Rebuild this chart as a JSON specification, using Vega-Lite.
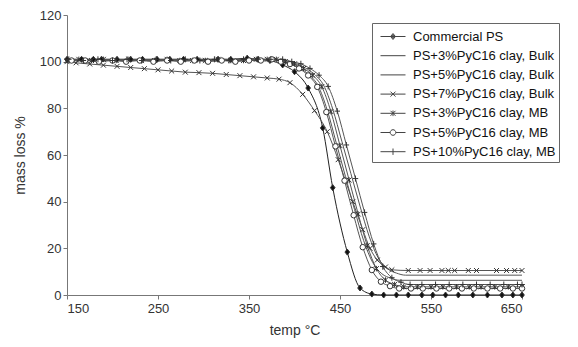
{
  "$schema": "https://vega.github.io/schema/vega-lite/v6.json",
  "autosize": {"type": "none"},
  "width": 455,
  "height": 280,
  "padding": {"left": 67, "top": 15, "right": 56, "bottom": 52},
  "background": "white",
  "config": {
    "view": {"stroke": null},
    "font": "Liberation Sans",
    "axis": {"labelFont": "Liberation Sans", "labelFontSize": 13, "labelColor": "#333", "titleFont": "Liberation Sans", "titleFontSize": 14, "titleFontWeight": "normal", "titleColor": "#333", "domainColor": "#777", "tickColor": "#777", "grid": false, "tickSize": 4}
  },
  "datasets": {
    "d": [
      {"s": "Commercial PS", "t": 150, "v": 101}, {"s": "Commercial PS", "t": 166, "v": 101}, {"s": "Commercial PS", "t": 179, "v": 101}, {"s": "Commercial PS", "t": 188, "v": 101}, {"s": "Commercial PS", "t": 205, "v": 101}, {"s": "Commercial PS", "t": 220, "v": 101}, {"s": "Commercial PS", "t": 233, "v": 101}, {"s": "Commercial PS", "t": 249, "v": 101}, {"s": "Commercial PS", "t": 263, "v": 101}, {"s": "Commercial PS", "t": 278, "v": 101}, {"s": "Commercial PS", "t": 293, "v": 101}, {"s": "Commercial PS", "t": 316, "v": 101}, {"s": "Commercial PS", "t": 330, "v": 101}, {"s": "Commercial PS", "t": 348, "v": 101.5}, {"s": "Commercial PS", "t": 360, "v": 101}, {"s": "Commercial PS", "t": 373, "v": 100.5}, {"s": "Commercial PS", "t": 387, "v": 98.6}, {"s": "Commercial PS", "t": 400, "v": 95.7}, {"s": "Commercial PS", "t": 415, "v": 88.7}, {"s": "Commercial PS", "t": 431, "v": 71.6}, {"s": "Commercial PS", "t": 442, "v": 46}, {"s": "Commercial PS", "t": 458, "v": 18.4}, {"s": "Commercial PS", "t": 472, "v": 3}, {"s": "Commercial PS", "t": 485, "v": 0.4}, {"s": "Commercial PS", "t": 498, "v": 0}, {"s": "Commercial PS", "t": 512, "v": 0}, {"s": "Commercial PS", "t": 525, "v": 0}, {"s": "Commercial PS", "t": 540, "v": 0}, {"s": "Commercial PS", "t": 552, "v": 0}, {"s": "Commercial PS", "t": 566, "v": 0}, {"s": "Commercial PS", "t": 580, "v": 0}, {"s": "Commercial PS", "t": 596, "v": 0}, {"s": "Commercial PS", "t": 612, "v": 0}, {"s": "Commercial PS", "t": 628, "v": 0}, {"s": "Commercial PS", "t": 640, "v": 0}, {"s": "Commercial PS", "t": 650, "v": 0},

      {"s": "PS+3%PyC16 clay, Bulk", "t": 150, "v": 100.5}, {"s": "PS+3%PyC16 clay, Bulk", "t": 250, "v": 100.5}, {"s": "PS+3%PyC16 clay, Bulk", "t": 350, "v": 100.5}, {"s": "PS+3%PyC16 clay, Bulk", "t": 376, "v": 101}, {"s": "PS+3%PyC16 clay, Bulk", "t": 386, "v": 100}, {"s": "PS+3%PyC16 clay, Bulk", "t": 396, "v": 99.1}, {"s": "PS+3%PyC16 clay, Bulk", "t": 406, "v": 97.2}, {"s": "PS+3%PyC16 clay, Bulk", "t": 416, "v": 94.4}, {"s": "PS+3%PyC16 clay, Bulk", "t": 426, "v": 89.6}, {"s": "PS+3%PyC16 clay, Bulk", "t": 436, "v": 79.2}, {"s": "PS+3%PyC16 clay, Bulk", "t": 446, "v": 65}, {"s": "PS+3%PyC16 clay, Bulk", "t": 456, "v": 50.8}, {"s": "PS+3%PyC16 clay, Bulk", "t": 466, "v": 36.6}, {"s": "PS+3%PyC16 clay, Bulk", "t": 476, "v": 23.3}, {"s": "PS+3%PyC16 clay, Bulk", "t": 486, "v": 13.9}, {"s": "PS+3%PyC16 clay, Bulk", "t": 496, "v": 9.1}, {"s": "PS+3%PyC16 clay, Bulk", "t": 506, "v": 7.2}, {"s": "PS+3%PyC16 clay, Bulk", "t": 516, "v": 6.3}, {"s": "PS+3%PyC16 clay, Bulk", "t": 580, "v": 6.3}, {"s": "PS+3%PyC16 clay, Bulk", "t": 650, "v": 6.3},

      {"s": "PS+5%PyC16 clay, Bulk", "t": 150, "v": 101}, {"s": "PS+5%PyC16 clay, Bulk", "t": 250, "v": 101}, {"s": "PS+5%PyC16 clay, Bulk", "t": 350, "v": 101}, {"s": "PS+5%PyC16 clay, Bulk", "t": 382, "v": 101}, {"s": "PS+5%PyC16 clay, Bulk", "t": 392, "v": 100.1}, {"s": "PS+5%PyC16 clay, Bulk", "t": 402, "v": 99.2}, {"s": "PS+5%PyC16 clay, Bulk", "t": 412, "v": 97.3}, {"s": "PS+5%PyC16 clay, Bulk", "t": 422, "v": 94.5}, {"s": "PS+5%PyC16 clay, Bulk", "t": 432, "v": 89.9}, {"s": "PS+5%PyC16 clay, Bulk", "t": 442, "v": 79.7}, {"s": "PS+5%PyC16 clay, Bulk", "t": 452, "v": 65.9}, {"s": "PS+5%PyC16 clay, Bulk", "t": 462, "v": 52}, {"s": "PS+5%PyC16 clay, Bulk", "t": 472, "v": 38.1}, {"s": "PS+5%PyC16 clay, Bulk", "t": 482, "v": 25.2}, {"s": "PS+5%PyC16 clay, Bulk", "t": 492, "v": 15.9}, {"s": "PS+5%PyC16 clay, Bulk", "t": 502, "v": 11.3}, {"s": "PS+5%PyC16 clay, Bulk", "t": 512, "v": 9.4}, {"s": "PS+5%PyC16 clay, Bulk", "t": 522, "v": 8.5}, {"s": "PS+5%PyC16 clay, Bulk", "t": 590, "v": 8.5}, {"s": "PS+5%PyC16 clay, Bulk", "t": 650, "v": 8.5},

      {"s": "PS+7%PyC16 clay, Bulk", "t": 150, "v": 100}, {"s": "PS+7%PyC16 clay, Bulk", "t": 160, "v": 99.5}, {"s": "PS+7%PyC16 clay, Bulk", "t": 175, "v": 99}, {"s": "PS+7%PyC16 clay, Bulk", "t": 190, "v": 98.5}, {"s": "PS+7%PyC16 clay, Bulk", "t": 205, "v": 98}, {"s": "PS+7%PyC16 clay, Bulk", "t": 220, "v": 97.5}, {"s": "PS+7%PyC16 clay, Bulk", "t": 235, "v": 97}, {"s": "PS+7%PyC16 clay, Bulk", "t": 250, "v": 96.5}, {"s": "PS+7%PyC16 clay, Bulk", "t": 265, "v": 96}, {"s": "PS+7%PyC16 clay, Bulk", "t": 280, "v": 95.5}, {"s": "PS+7%PyC16 clay, Bulk", "t": 295, "v": 95.3}, {"s": "PS+7%PyC16 clay, Bulk", "t": 310, "v": 95}, {"s": "PS+7%PyC16 clay, Bulk", "t": 325, "v": 94.5}, {"s": "PS+7%PyC16 clay, Bulk", "t": 340, "v": 94}, {"s": "PS+7%PyC16 clay, Bulk", "t": 355, "v": 93.5}, {"s": "PS+7%PyC16 clay, Bulk", "t": 370, "v": 93}, {"s": "PS+7%PyC16 clay, Bulk", "t": 383, "v": 92.5}, {"s": "PS+7%PyC16 clay, Bulk", "t": 395, "v": 91}, {"s": "PS+7%PyC16 clay, Bulk", "t": 409, "v": 86}, {"s": "PS+7%PyC16 clay, Bulk", "t": 422, "v": 79}, {"s": "PS+7%PyC16 clay, Bulk", "t": 436, "v": 70}, {"s": "PS+7%PyC16 clay, Bulk", "t": 448, "v": 58}, {"s": "PS+7%PyC16 clay, Bulk", "t": 456, "v": 49}, {"s": "PS+7%PyC16 clay, Bulk", "t": 464, "v": 40}, {"s": "PS+7%PyC16 clay, Bulk", "t": 475, "v": 28}, {"s": "PS+7%PyC16 clay, Bulk", "t": 483, "v": 20}, {"s": "PS+7%PyC16 clay, Bulk", "t": 491, "v": 15}, {"s": "PS+7%PyC16 clay, Bulk", "t": 500, "v": 12}, {"s": "PS+7%PyC16 clay, Bulk", "t": 507, "v": 10.8}, {"s": "PS+7%PyC16 clay, Bulk", "t": 525, "v": 10.5}, {"s": "PS+7%PyC16 clay, Bulk", "t": 538, "v": 10.5}, {"s": "PS+7%PyC16 clay, Bulk", "t": 549, "v": 10.5}, {"s": "PS+7%PyC16 clay, Bulk", "t": 562, "v": 10.5}, {"s": "PS+7%PyC16 clay, Bulk", "t": 569, "v": 10.5}, {"s": "PS+7%PyC16 clay, Bulk", "t": 576, "v": 10.5}, {"s": "PS+7%PyC16 clay, Bulk", "t": 591, "v": 10.5}, {"s": "PS+7%PyC16 clay, Bulk", "t": 600, "v": 10.5}, {"s": "PS+7%PyC16 clay, Bulk", "t": 622, "v": 10.5}, {"s": "PS+7%PyC16 clay, Bulk", "t": 633, "v": 10.5}, {"s": "PS+7%PyC16 clay, Bulk", "t": 642, "v": 10.5}, {"s": "PS+7%PyC16 clay, Bulk", "t": 650, "v": 10.5},

      {"s": "PS+3%PyC16 clay, MB", "t": 150, "v": 100.5}, {"s": "PS+3%PyC16 clay, MB", "t": 163, "v": 101}, {"s": "PS+3%PyC16 clay, MB", "t": 177, "v": 100.5}, {"s": "PS+3%PyC16 clay, MB", "t": 190, "v": 101}, {"s": "PS+3%PyC16 clay, MB", "t": 204, "v": 100.5}, {"s": "PS+3%PyC16 clay, MB", "t": 218, "v": 101}, {"s": "PS+3%PyC16 clay, MB", "t": 232, "v": 100.5}, {"s": "PS+3%PyC16 clay, MB", "t": 246, "v": 100.5}, {"s": "PS+3%PyC16 clay, MB", "t": 260, "v": 101}, {"s": "PS+3%PyC16 clay, MB", "t": 274, "v": 100.5}, {"s": "PS+3%PyC16 clay, MB", "t": 288, "v": 100.5}, {"s": "PS+3%PyC16 clay, MB", "t": 302, "v": 100.5}, {"s": "PS+3%PyC16 clay, MB", "t": 316, "v": 101}, {"s": "PS+3%PyC16 clay, MB", "t": 330, "v": 100.5}, {"s": "PS+3%PyC16 clay, MB", "t": 344, "v": 100.5}, {"s": "PS+3%PyC16 clay, MB", "t": 358, "v": 101}, {"s": "PS+3%PyC16 clay, MB", "t": 370, "v": 101}, {"s": "PS+3%PyC16 clay, MB", "t": 380, "v": 101}, {"s": "PS+3%PyC16 clay, MB", "t": 390, "v": 100}, {"s": "PS+3%PyC16 clay, MB", "t": 400, "v": 99.1}, {"s": "PS+3%PyC16 clay, MB", "t": 410, "v": 97.1}, {"s": "PS+3%PyC16 clay, MB", "t": 420, "v": 94.2}, {"s": "PS+3%PyC16 clay, MB", "t": 430, "v": 89.3}, {"s": "PS+3%PyC16 clay, MB", "t": 440, "v": 78.6}, {"s": "PS+3%PyC16 clay, MB", "t": 450, "v": 64}, {"s": "PS+3%PyC16 clay, MB", "t": 460, "v": 49.3}, {"s": "PS+3%PyC16 clay, MB", "t": 470, "v": 34.7}, {"s": "PS+3%PyC16 clay, MB", "t": 480, "v": 21.1}, {"s": "PS+3%PyC16 clay, MB", "t": 490, "v": 11.3}, {"s": "PS+3%PyC16 clay, MB", "t": 500, "v": 6.4}, {"s": "PS+3%PyC16 clay, MB", "t": 510, "v": 4.5}, {"s": "PS+3%PyC16 clay, MB", "t": 520, "v": 3.5}, {"s": "PS+3%PyC16 clay, MB", "t": 535, "v": 3.5}, {"s": "PS+3%PyC16 clay, MB", "t": 550, "v": 3.5}, {"s": "PS+3%PyC16 clay, MB", "t": 563, "v": 3.5}, {"s": "PS+3%PyC16 clay, MB", "t": 578, "v": 3.5}, {"s": "PS+3%PyC16 clay, MB", "t": 592, "v": 3.5}, {"s": "PS+3%PyC16 clay, MB", "t": 605, "v": 3.5}, {"s": "PS+3%PyC16 clay, MB", "t": 620, "v": 3.5}, {"s": "PS+3%PyC16 clay, MB", "t": 635, "v": 3.5}, {"s": "PS+3%PyC16 clay, MB", "t": 650, "v": 3.5},

      {"s": "PS+5%PyC16 clay, MB", "t": 155, "v": 100.5}, {"s": "PS+5%PyC16 clay, MB", "t": 170, "v": 100.5}, {"s": "PS+5%PyC16 clay, MB", "t": 185, "v": 100}, {"s": "PS+5%PyC16 clay, MB", "t": 200, "v": 100.5}, {"s": "PS+5%PyC16 clay, MB", "t": 215, "v": 100}, {"s": "PS+5%PyC16 clay, MB", "t": 230, "v": 100.5}, {"s": "PS+5%PyC16 clay, MB", "t": 245, "v": 100}, {"s": "PS+5%PyC16 clay, MB", "t": 260, "v": 100.5}, {"s": "PS+5%PyC16 clay, MB", "t": 275, "v": 100}, {"s": "PS+5%PyC16 clay, MB", "t": 290, "v": 100.5}, {"s": "PS+5%PyC16 clay, MB", "t": 305, "v": 100}, {"s": "PS+5%PyC16 clay, MB", "t": 320, "v": 100.5}, {"s": "PS+5%PyC16 clay, MB", "t": 335, "v": 100}, {"s": "PS+5%PyC16 clay, MB", "t": 350, "v": 100.5}, {"s": "PS+5%PyC16 clay, MB", "t": 363, "v": 100.5}, {"s": "PS+5%PyC16 clay, MB", "t": 375, "v": 101}, {"s": "PS+5%PyC16 clay, MB", "t": 385, "v": 100}, {"s": "PS+5%PyC16 clay, MB", "t": 395, "v": 99}, {"s": "PS+5%PyC16 clay, MB", "t": 405, "v": 97.1}, {"s": "PS+5%PyC16 clay, MB", "t": 415, "v": 94.1}, {"s": "PS+5%PyC16 clay, MB", "t": 425, "v": 89.2}, {"s": "PS+5%PyC16 clay, MB", "t": 435, "v": 78.4}, {"s": "PS+5%PyC16 clay, MB", "t": 445, "v": 63.7}, {"s": "PS+5%PyC16 clay, MB", "t": 455, "v": 49}, {"s": "PS+5%PyC16 clay, MB", "t": 465, "v": 34.2}, {"s": "PS+5%PyC16 clay, MB", "t": 475, "v": 20.5}, {"s": "PS+5%PyC16 clay, MB", "t": 485, "v": 10.7}, {"s": "PS+5%PyC16 clay, MB", "t": 495, "v": 5.7}, {"s": "PS+5%PyC16 clay, MB", "t": 505, "v": 3.8}, {"s": "PS+5%PyC16 clay, MB", "t": 515, "v": 2.8}, {"s": "PS+5%PyC16 clay, MB", "t": 528, "v": 2.8}, {"s": "PS+5%PyC16 clay, MB", "t": 541, "v": 2.8}, {"s": "PS+5%PyC16 clay, MB", "t": 556, "v": 2.8}, {"s": "PS+5%PyC16 clay, MB", "t": 570, "v": 2.8}, {"s": "PS+5%PyC16 clay, MB", "t": 584, "v": 2.8}, {"s": "PS+5%PyC16 clay, MB", "t": 597, "v": 2.8}, {"s": "PS+5%PyC16 clay, MB", "t": 612, "v": 2.8}, {"s": "PS+5%PyC16 clay, MB", "t": 626, "v": 2.8}, {"s": "PS+5%PyC16 clay, MB", "t": 640, "v": 2.8}, {"s": "PS+5%PyC16 clay, MB", "t": 650, "v": 2.8},

      {"s": "PS+10%PyC16 clay, MB", "t": 152, "v": 101}, {"s": "PS+10%PyC16 clay, MB", "t": 168, "v": 100.5}, {"s": "PS+10%PyC16 clay, MB", "t": 184, "v": 101}, {"s": "PS+10%PyC16 clay, MB", "t": 200, "v": 100.5}, {"s": "PS+10%PyC16 clay, MB", "t": 216, "v": 101}, {"s": "PS+10%PyC16 clay, MB", "t": 232, "v": 100.5}, {"s": "PS+10%PyC16 clay, MB", "t": 248, "v": 101}, {"s": "PS+10%PyC16 clay, MB", "t": 264, "v": 100.5}, {"s": "PS+10%PyC16 clay, MB", "t": 280, "v": 101}, {"s": "PS+10%PyC16 clay, MB", "t": 296, "v": 100.5}, {"s": "PS+10%PyC16 clay, MB", "t": 312, "v": 101}, {"s": "PS+10%PyC16 clay, MB", "t": 328, "v": 100.5}, {"s": "PS+10%PyC16 clay, MB", "t": 344, "v": 101}, {"s": "PS+10%PyC16 clay, MB", "t": 360, "v": 101}, {"s": "PS+10%PyC16 clay, MB", "t": 374, "v": 101}, {"s": "PS+10%PyC16 clay, MB", "t": 387, "v": 101}, {"s": "PS+10%PyC16 clay, MB", "t": 397, "v": 100}, {"s": "PS+10%PyC16 clay, MB", "t": 407, "v": 99.1}, {"s": "PS+10%PyC16 clay, MB", "t": 417, "v": 97.1}, {"s": "PS+10%PyC16 clay, MB", "t": 427, "v": 94.2}, {"s": "PS+10%PyC16 clay, MB", "t": 437, "v": 89.4}, {"s": "PS+10%PyC16 clay, MB", "t": 447, "v": 78.8}, {"s": "PS+10%PyC16 clay, MB", "t": 457, "v": 64.3}, {"s": "PS+10%PyC16 clay, MB", "t": 467, "v": 49.9}, {"s": "PS+10%PyC16 clay, MB", "t": 477, "v": 35.4}, {"s": "PS+10%PyC16 clay, MB", "t": 487, "v": 21.9}, {"s": "PS+10%PyC16 clay, MB", "t": 497, "v": 12.2}, {"s": "PS+10%PyC16 clay, MB", "t": 507, "v": 7.4}, {"s": "PS+10%PyC16 clay, MB", "t": 517, "v": 5.5}, {"s": "PS+10%PyC16 clay, MB", "t": 527, "v": 4.5}, {"s": "PS+10%PyC16 clay, MB", "t": 540, "v": 4.5}, {"s": "PS+10%PyC16 clay, MB", "t": 555, "v": 4.5}, {"s": "PS+10%PyC16 clay, MB", "t": 570, "v": 4.5}, {"s": "PS+10%PyC16 clay, MB", "t": 585, "v": 4.5}, {"s": "PS+10%PyC16 clay, MB", "t": 600, "v": 4.5}, {"s": "PS+10%PyC16 clay, MB", "t": 615, "v": 4.5}, {"s": "PS+10%PyC16 clay, MB", "t": 630, "v": 4.5}, {"s": "PS+10%PyC16 clay, MB", "t": 645, "v": 4.5}, {"s": "PS+10%PyC16 clay, MB", "t": 650, "v": 4.5}
    ]
  },
  "data": {"name": "d"},
  "encoding": {
    "x": {"field": "t", "type": "quantitative", "scale": {"domain": [150, 650], "nice": false, "zero": false}, "axis": {"values": [150, 250, 350, 450, 550, 650], "title": "temp °C", "titlePadding": 8, "labelPadding": 3}},
    "y": {"field": "v", "type": "quantitative", "scale": {"domain": [0, 120], "nice": false}, "axis": {"values": [0, 20, 40, 60, 80, 100, 120], "title": "mass loss %", "titlePadding": 12}}
  },
  "layer": [
    {
      "mark": {"type": "line", "interpolate": "monotone", "strokeWidth": 1},
      "encoding": {
        "detail": {"field": "s"},
        "stroke": {"condition": {"test": "datum.s === 'Commercial PS'", "value": "#222"}, "value": "#555"}
      }
    },
    {
      "transform": [{"filter": "datum.s !== 'PS+3%PyC16 clay, Bulk' && datum.s !== 'PS+5%PyC16 clay, Bulk'"}],
      "mark": {"type": "point", "filled": true, "stroke": "#333", "strokeWidth": 1, "size": 30, "opacity": 1},
      "encoding": {
        "fill": {"condition": [{"test": "datum.s === 'Commercial PS'", "value": "#111"}, {"test": "datum.s === 'PS+5%PyC16 clay, MB'", "value": "white"}, {"test": "datum.s === 'PS+3%PyC16 clay, MB'", "value": "#555"}], "value": "transparent"},
        "shape": {"condition": [
          {"test": "datum.s === 'Commercial PS'", "value": "M0,-1.1L0.85,0L0,1.1L-0.85,0Z"},
          {"test": "datum.s === 'PS+7%PyC16 clay, Bulk'", "value": "M-0.9,-0.9L0.9,0.9M-0.9,0.9L0.9,-0.9"},
          {"test": "datum.s === 'PS+3%PyC16 clay, MB'", "value": "M-0.9,-0.9L0.9,0.9M-0.9,0.9L0.9,-0.9M0,-1L0,1"},
          {"test": "datum.s === 'PS+5%PyC16 clay, MB'", "value": "circle"}
        ], "value": "M0,-1.1L0,1.1M-1,0L1,0"}
      }
    },
    {
      "transform": [{"filter": "datum.t > 9999"}],
      "mark": {"type": "point", "filled": false, "stroke": "#444", "strokeWidth": 1, "size": 400, "opacity": 1},
      "encoding": {
        "shape": {
          "field": "s", "type": "nominal",
          "scale": {"domain": ["Commercial PS", "PS+3%PyC16 clay, Bulk", "PS+5%PyC16 clay, Bulk", "PS+7%PyC16 clay, Bulk", "PS+3%PyC16 clay, MB", "PS+5%PyC16 clay, MB", "PS+10%PyC16 clay, MB"],
                    "range": [
                      "M-0.5,0L2,0M0.75,-0.3L0.99,0L0.75,0.3L0.51,0ZM0.75,-0.2L0.91,0L0.75,0.2L0.59,0ZM0.75,-0.1L0.83,0L0.75,0.1L0.67,0Z",
                      "M-0.5,0L2,0",
                      "M-0.5,0L2,0",
                      "M-0.5,0L2,0M0.5,-0.25L1,0.25M0.5,0.25L1,-0.25",
                      "M-0.5,0L2,0M0.5,-0.25L1,0.25M0.5,0.25L1,-0.25M0.75,-0.28L0.75,0.28",
                      "M-0.5,0L0.47,0M1.03,0L2,0M0.47,0A0.28,0.28 0 1,0 1.03,0A0.28,0.28 0 1,0 0.47,0",
                      "M-0.5,0L2,0M0.75,-0.32L0.75,0.32"
                    ]},
          "legend": {
            "title": null,
            "orient": "none",
            "legendX": 305,
            "legendY": 8,
            "strokeColor": "#666",
            "fillColor": "white",
            "padding": 3,
            "labelFont": "Liberation Sans",
            "labelFontSize": 13,
            "labelColor": "#111",
            "labelOffset": 17,
            "symbolSize": 400,
            "symbolStrokeColor": "#444",
            "symbolStrokeWidth": 1,
            "symbolFillColor": "transparent",
            "symbolOpacity": 1,
            "rowPadding": 1.2
          }
        }
      }
    }
  ]
}
